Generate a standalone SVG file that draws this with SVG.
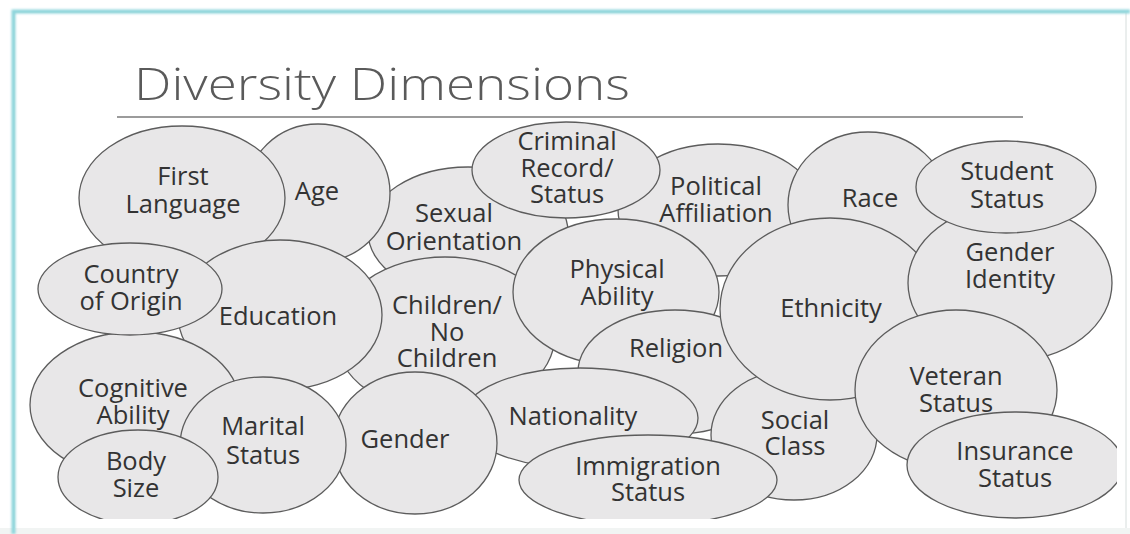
<svg xmlns="http://www.w3.org/2000/svg" width="1130" height="534" viewBox="0 0 1130 534">
  <defs>
    <style>
      .bubble ellipse { fill: #e8e7e8; stroke: #5c5c5c; stroke-width: 1.3; }
      .bubble text { font-family: "Open Sans", "Noto Sans", "DejaVu Sans", sans-serif; font-size: 25.5px; fill: #333333; text-anchor: middle; }
      .title { font-family: "Open Sans", "Noto Sans", sans-serif; font-weight: 300; font-size: 45px; fill: #5a5a5a; }
    </style>
    <clipPath id="area">
      <rect x="15" y="13" width="1102" height="506"/>
    </clipPath>
    <filter id="glow" x="-5%" y="-5%" width="110%" height="110%">
      <feGaussianBlur stdDeviation="1.2"/>
    </filter>
  </defs>

  <rect x="0" y="0" width="1130" height="534" fill="#ffffff"/>
  <!-- slide frame -->
  <g id="frame">
    <rect x="14" y="12" width="1112" height="517" fill="#ffffff" stroke="#e4e9e8" stroke-width="1.5"/>
    <rect x="0" y="528" width="1130" height="6" fill="#f1f4f3"/>
    <path d="M13.5 534 V11.5 H1130" fill="none" stroke="#8fd6dc" stroke-width="4" filter="url(#glow)"/>
  </g>

  <g id="title">
    <text class="title" x="134" y="100" textLength="496" lengthAdjust="spacingAndGlyphs">Diversity Dimensions</text>
    <line x1="117" y1="117" x2="1023" y2="117" stroke="#7a7a7a" stroke-width="1.5"/>
  </g>

  <g id="bubbles" clip-path="url(#area)">
    <g id="political-affiliation" class="bubble">
      <ellipse cx="718" cy="210" rx="100" ry="66"/>
      <text x="716" y="195">Political</text>
      <text x="716" y="222">Affiliation</text>
    </g>
    <g id="sexual-orientation" class="bubble">
      <ellipse cx="468" cy="232" rx="100" ry="65"/>
      <text x="454" y="222">Sexual</text>
      <text x="454" y="250">Orientation</text>
    </g>
    <g id="race" class="bubble">
      <ellipse cx="868" cy="205" rx="80" ry="73"/>
      <text x="870" y="207">Race</text>
    </g>
    <g id="age" class="bubble">
      <ellipse cx="318" cy="193" rx="72" ry="69"/>
      <text x="317" y="200">Age</text>
    </g>
    <g id="first-language" class="bubble">
      <ellipse cx="182" cy="198" rx="103" ry="72"/>
      <text x="183" y="185">First</text>
      <text x="183" y="213">Language</text>
    </g>
    <g id="children" class="bubble">
      <ellipse cx="445" cy="335" rx="110" ry="78"/>
      <text x="447" y="314">Children/</text>
      <text x="447" y="341">No</text>
      <text x="447" y="367">Children</text>
    </g>
    <g id="physical-ability" class="bubble">
      <ellipse cx="616" cy="292" rx="103" ry="73"/>
      <text x="617" y="278">Physical</text>
      <text x="617" y="305">Ability</text>
    </g>
    <g id="religion" class="bubble">
      <ellipse cx="675" cy="372" rx="97" ry="62"/>
      <text x="676" y="357">Religion</text>
    </g>
    <g id="social-class" class="bubble">
      <ellipse cx="794" cy="435" rx="83" ry="65"/>
      <text x="795" y="429">Social</text>
      <text x="795" y="455">Class</text>
    </g>
    <g id="ethnicity" class="bubble">
      <ellipse cx="830" cy="309" rx="110" ry="91"/>
      <text x="831" y="317">Ethnicity</text>
    </g>
    <g id="gender-identity" class="bubble">
      <ellipse cx="1010" cy="283" rx="102" ry="78"/>
      <text x="1010" y="261">Gender</text>
      <text x="1010" y="288">Identity</text>
    </g>
    <g id="student-status" class="bubble">
      <ellipse cx="1006" cy="187" rx="90" ry="46"/>
      <text x="1007" y="180">Student</text>
      <text x="1007" y="208">Status</text>
    </g>
    <g id="education" class="bubble">
      <ellipse cx="280" cy="315" rx="102" ry="75"/>
      <text x="278" y="325">Education</text>
    </g>
    <g id="cognitive-ability" class="bubble">
      <ellipse cx="135" cy="405" rx="105" ry="73"/>
      <text x="133" y="397">Cognitive</text>
      <text x="133" y="424">Ability</text>
    </g>
    <g id="country-of-origin" class="bubble">
      <ellipse cx="130" cy="289" rx="92" ry="46"/>
      <text x="131" y="283">Country</text>
      <text x="131" y="310">of Origin</text>
    </g>
    <g id="nationality" class="bubble">
      <ellipse cx="580" cy="418" rx="118" ry="50"/>
      <text x="573" y="425">Nationality</text>
    </g>
    <g id="gender" class="bubble">
      <ellipse cx="415" cy="443" rx="82" ry="71"/>
      <text x="405" y="448">Gender</text>
    </g>
    <g id="marital-status" class="bubble">
      <ellipse cx="263" cy="445" rx="83" ry="68"/>
      <text x="263" y="435">Marital</text>
      <text x="263" y="464">Status</text>
    </g>
    <g id="body-size" class="bubble">
      <ellipse cx="138" cy="477" rx="80" ry="47"/>
      <text x="136" y="470">Body</text>
      <text x="136" y="497">Size</text>
    </g>
    <g id="immigration-status" class="bubble">
      <ellipse cx="648" cy="480" rx="129" ry="45"/>
      <text x="648" y="475">Immigration</text>
      <text x="648" y="501">Status</text>
    </g>
    <g id="veteran-status" class="bubble">
      <ellipse cx="956" cy="390" rx="101" ry="80"/>
      <text x="956" y="385">Veteran</text>
      <text x="956" y="412">Status</text>
    </g>
    <g id="insurance-status" class="bubble">
      <ellipse cx="1015" cy="465" rx="108" ry="53"/>
      <text x="1015" y="460">Insurance</text>
      <text x="1015" y="487">Status</text>
    </g>
    <g id="criminal-record" class="bubble">
      <ellipse cx="566" cy="170" rx="94" ry="48"/>
      <text x="567" y="150">Criminal</text>
      <text x="567" y="177">Record/</text>
      <text x="567" y="203">Status</text>
    </g>
  </g>
  <g id="connectors"/>
</svg>
